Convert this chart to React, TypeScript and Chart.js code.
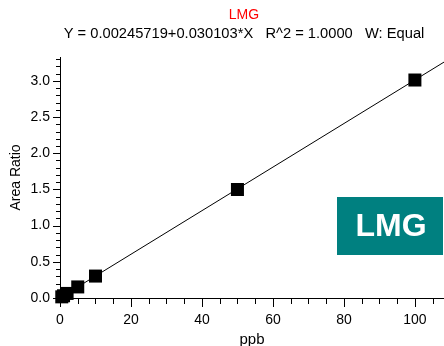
import React, { useEffect, useRef } from "react";
import { Chart, registerables } from "chart.js";

Chart.register(...registerables);

// ---- data ----
const concentrations = [0.5, 1, 2, 5, 10, 50, 100];
const areaRatios = [0.016, 0.031, 0.063, 0.153, 0.303, 1.499, 3.012];
const fitLineX = [0, 108.2];
const fitLineY = [0.0025, 3.2596];
const xMin = 0;
const xMax = 108.2;
const yMin = 0;
const yMax = 3.33;
const xMajorStep = 20;
const xMinorStep = 5;
const yMajorStep = 0.5;
const yMinorStep = 0.1;
const titleText = "LMG";
const equationText = "Y = 0.00245719+0.030103*X   R^2 = 1.0000   W: Equal";
const badgeText = "LMG";
const xAxisTitle = "ppb";
const yAxisTitle = "Area Ratio";

const FONT = "'Liberation Sans', Arial, sans-serif";

const decorPlugin = {
  id: "decor",
  afterDraw(chart: any) {
    const ctx = chart.ctx;
    const xs = chart.scales.x;
    const ys = chart.scales.y;
    const area = chart.chartArea;
    ctx.save();
    // tick marks
    ctx.strokeStyle = "#000";
    ctx.lineWidth = 1;
    ctx.beginPath();
    const nY = Math.round((yMax - yMin) / yMinorStep);
    for (let i = 0; i <= nY; i++) {
      const v = yMin + i * yMinorStep;
      if (v > yMax + 1e-9) break;
      const major = Math.abs(v / yMajorStep - Math.round(v / yMajorStep)) < 1e-6;
      const py = Math.round(ys.getPixelForValue(v)) + 0.5;
      const len = major ? 7 : 4;
      ctx.moveTo(area.left, py);
      ctx.lineTo(area.left - len, py);
    }
    const nX = Math.round((xMax - xMin) / xMinorStep);
    for (let i = 0; i <= nX; i++) {
      const v = xMin + i * xMinorStep;
      if (v > xMax + 1e-9) break;
      const major = Math.abs(v / xMajorStep - Math.round(v / xMajorStep)) < 1e-6;
      const px = Math.round(xs.getPixelForValue(v)) + 0.5;
      const len = major ? 9 : 6;
      ctx.moveTo(px, area.bottom);
      ctx.lineTo(px, area.bottom + len);
    }
    ctx.stroke();

    // titles
    ctx.textAlign = "center";
    ctx.textBaseline = "middle";
    ctx.fillStyle = "#ff0000";
    ctx.font = `14px ${FONT}`;
    ctx.fillText(titleText, 244, 15);
    ctx.fillStyle = "#000";
    ctx.font = `14.7px ${FONT}`;
    ctx.fillText(equationText, 244, 34);

    // badge
    ctx.fillStyle = "#008080";
    ctx.fillRect(337, 197, 106, 58);
    ctx.fillStyle = "#ffffff";
    ctx.font = `bold 32px ${FONT}`;
    ctx.fillText(badgeText, 391, 227);
    ctx.restore();
  },
};

export default function App() {
  const ref = useRef<HTMLCanvasElement | null>(null);
  useEffect(() => {
    if (!ref.current) return;
    const chart = new Chart(ref.current, {
      type: "scatter",
      data: {
        datasets: [
          {
            label: "points",
            data: concentrations.map((x, i) => ({ x, y: areaRatios[i] })),
            pointStyle: "rect",
            pointRadius: 9.2,
            pointBorderWidth: 0,
            backgroundColor: "#000",
            borderColor: "#000",
            showLine: false,
            clip: false,
            order: 0,
          },
          {
            label: "fit",
            data: fitLineX.map((x, i) => ({ x, y: fitLineY[i] })),
            showLine: true,
            pointRadius: 0,
            borderColor: "#000",
            borderWidth: 1,
            order: 1,
          },
        ],
      },
      options: {
        responsive: false,
        animation: false,
        events: [],
        layout: { autoPadding: false, padding: { top: 57, left: 0, right: 0, bottom: 0 } },
        plugins: {
          legend: { display: false },
          title: { display: false },
          tooltip: { enabled: false },
        },
        scales: {
          x: {
            type: "linear",
            min: xMin,
            max: xMax,
            afterFit: (s: any) => {
              s.height = 48;
              s.paddingLeft = 0;
              s.paddingRight = 0;
            },
            border: { display: true, color: "#000", width: 1 },
            grid: {
              drawOnChartArea: false,
              drawTicks: true,
              tickLength: 9,
              tickColor: "rgba(0,0,0,0)",
            },
            ticks: {
              stepSize: xMajorStep,
              includeBounds: false,
              autoSkip: false,
              maxRotation: 0,
              padding: 5,
              color: "#000",
              font: { family: FONT, size: 14 },
              callback: (v: any) => String(v),
            },
            title: {
              display: true,
              text: xAxisTitle,
              color: "#000",
              font: { family: FONT, size: 15 },
              padding: { top: 0, bottom: -3 },
            },
          },
          y: {
            type: "linear",
            min: yMin,
            max: yMax,
            afterFit: (s: any) => {
              s.width = 60;
              s.paddingTop = 0;
              s.paddingBottom = 0;
            },
            border: { display: true, color: "#000", width: 1 },
            grid: {
              drawOnChartArea: false,
              drawTicks: true,
              tickLength: 7,
              tickColor: "rgba(0,0,0,0)",
            },
            ticks: {
              stepSize: yMajorStep,
              includeBounds: false,
              autoSkip: false,
              padding: 3,
              color: "#000",
              font: { family: FONT, size: 14 },
              callback: (v: any) => Number(v).toFixed(1),
            },
            title: {
              display: true,
              text: yAxisTitle,
              color: "#000",
              font: { family: FONT, size: 14 },
              padding: { top: 8, bottom: 0 },
            },
          },
        },
      },
      plugins: [decorPlugin],
    });
    return () => chart.destroy();
  }, []);
  return (
    <div style={{ position: "absolute", left: 0, top: 0, width: 444, height: 346, background: "#fff" }}>
      <canvas ref={ref} width={444} height={346} style={{ display: "block" }} />
    </div>
  );
}
